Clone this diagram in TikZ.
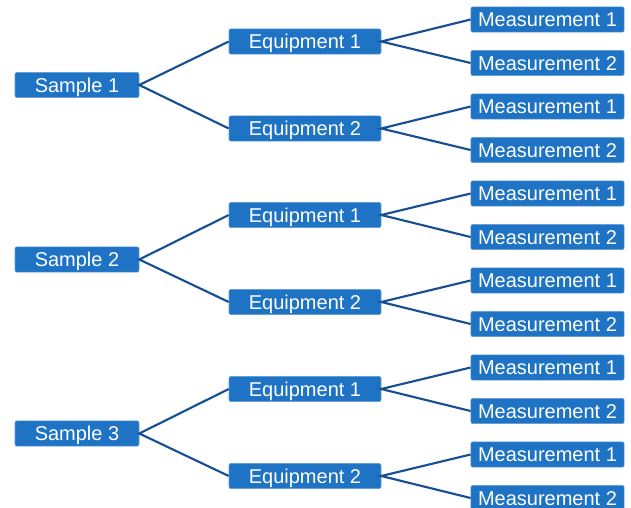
\documentclass[tikz,border=0pt]{standalone}
\usepackage{fontspec}
\setmainfont{Liberation Sans}
\usetikzlibrary{positioning}
\definecolor{boxblue}{RGB}{30,115,196}
\definecolor{linkblue}{RGB}{24,78,146}
\tikzset{
    itembox/.style={
        rectangle,                % caja simple
        rounded corners=1.5pt,    % esquinas apenas redondeadas
        draw=boxblue!70!white,    % borde un poco más claro
        fill=boxblue,
        text=white,
        font=\fontsize{15}{17}\selectfont,
        minimum height=19pt,
        text height=10.7pt,       % texto centrado por la altura de mayúsculas
        text depth=0pt,
        inner sep=0pt,
        minimum width=#1
    },
    link/.style={
        draw=linkblue,
        line width=1.6pt
    }
}

\begin{document}
\begin{tikzpicture}[x=0.75pt,y=-0.75pt]
    \useasboundingbox (0,0) rectangle (631,507);
    % muestras
    \node[itembox=93pt] (s1) at (77,85) {Sample 1};
    \node[itembox=93pt] (s2) at (77,259.5) {Sample 2};
    \node[itembox=93pt] (s3) at (77,433.5) {Sample 3};

    % equipos
    \node[itembox=114pt] (s1e1) at (305,41.5) {Equipment 1};
    \node[itembox=114pt] (s1e2) at (305,128.5) {Equipment 2};
    \node[itembox=114pt] (s2e1) at (305,215) {Equipment 1};
    \node[itembox=114pt] (s2e2) at (305,302) {Equipment 2};
    \node[itembox=114pt] (s3e1) at (305,389) {Equipment 1};
    \node[itembox=114pt] (s3e2) at (305,476) {Equipment 2};

    % mediciones
    \node[itembox=115pt] (s1e1m1) at (547.5,19.5) {Measurement 1};
    \node[itembox=115pt] (s1e1m2) at (547.5,63) {Measurement 2};
    \node[itembox=115pt] (s1e2m1) at (547.5,106.5) {Measurement 1};
    \node[itembox=115pt] (s1e2m2) at (547.5,150) {Measurement 2};
    \node[itembox=115pt] (s2e1m1) at (547.5,193.5) {Measurement 1};
    \node[itembox=115pt] (s2e1m2) at (547.5,237) {Measurement 2};
    \node[itembox=115pt] (s2e2m1) at (547.5,280.5) {Measurement 1};
    \node[itembox=115pt] (s2e2m2) at (547.5,324) {Measurement 2};
    \node[itembox=115pt] (s3e1m1) at (547.5,367.5) {Measurement 1};
    \node[itembox=115pt] (s3e1m2) at (547.5,411) {Measurement 2};
    \node[itembox=115pt] (s3e2m1) at (547.5,454.5) {Measurement 1};
    \node[itembox=115pt] (s3e2m2) at (547.5,498) {Measurement 2};

    \draw[link] (s1e1.west) -- (s1.east) -- (s1e2.west);
    \draw[link] (s2e1.west) -- (s2.east) -- (s2e2.west);
    \draw[link] (s3e1.west) -- (s3.east) -- (s3e2.west);

    \draw[link] (s1e1m1.west) -- (s1e1.east) -- (s1e1m2.west);
    \draw[link] (s1e2m1.west) -- (s1e2.east) -- (s1e2m2.west);
    \draw[link] (s2e1m1.west) -- (s2e1.east) -- (s2e1m2.west);
    \draw[link] (s2e2m1.west) -- (s2e2.east) -- (s2e2m2.west);
    \draw[link] (s3e1m1.west) -- (s3e1.east) -- (s3e1m2.west);
    \draw[link] (s3e2m1.west) -- (s3e2.east) -- (s3e2m2.west);
\end{tikzpicture}
\end{document}
